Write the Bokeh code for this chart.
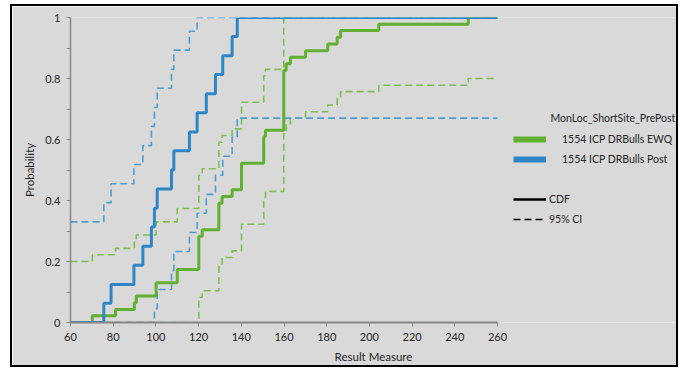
from bokeh.plotting import figure
from bokeh.models import Range1d, Legend, LegendItem, FixedTicker, Label
from bokeh.embed import file_html
from bokeh.resources import INLINE

# ---------------- data ----------------
x_ticks = [60, 80, 100, 120, 140, 160, 180, 200, 220, 240, 260]
x_tick_labels = ["60", "80", "100", "120", "140", "160", "180", "200", "220", "240", "260"]
y_ticks = [0, 0.2, 0.4, 0.6, 0.8, 1.0]
y_tick_labels = ["0", "0.2", "0.4", "0.6", "0.8", "1"]
y_minor_ticks = [0.1, 0.3, 0.5, 0.7, 0.9]

legend_title = "MonLoc_ShortSite_PrePost"
series_names = ["1554 ICP DRBulls EWQ", "1554 ICP DRBulls Post"]
style_names = ["CDF", "95% CI"]
x_label = "Result Measure"
y_label = "Probability"

# 1554 ICP DRBulls Post: step positions, CDF and CI after each step
post_x = [75.6, 79.0, 89.7, 93.9, 97.9, 99.3, 100.6, 107.3, 108.4, 115.7,
          119.3, 123.6, 127.9, 131.3, 135.7, 138.1]
post_cdf = [0.063, 0.125, 0.188, 0.250, 0.313, 0.375, 0.438, 0.500, 0.563, 0.625,
            0.688, 0.750, 0.813, 0.875, 0.938, 1.000]
post_lo = [0, 0, 0, 0, 0, 0.045, 0.108, 0.170, 0.233, 0.295,
           0.358, 0.420, 0.483, 0.545, 0.608, 0.670]
post_hi = [0.393, 0.455, 0.518, 0.580, 0.643, 0.705, 0.768, 0.830, 0.893, 0.955,
           1, 1, 1, 1, 1, 1]
post_start = [0, 0, 0.33]  # cdf, lower, upper at x = 60

# 1554 ICP DRBulls EWQ
ewq_x = [70.2, 81.1, 89.9, 90.8, 100.1, 110.0, 120.1, 121.7, 129.5, 131.0, 135.7,
         140.1, 150.5, 151.3, 159.9, 161.0, 163.0, 170.1, 180.5, 184.9, 186.5, 204.4, 246.3]
ewq_cdf = [0.022, 0.043, 0.065, 0.087, 0.130, 0.174, 0.283, 0.304, 0.391, 0.413, 0.435,
           0.522, 0.609, 0.630, 0.826, 0.848, 0.870, 0.891, 0.913, 0.935, 0.957, 0.978, 1.000]
ewq_lo = [0, 0, 0, 0, 0, 0, 0.083, 0.104, 0.191, 0.213, 0.235,
          0.322, 0.409, 0.430, 0.626, 0.648, 0.670, 0.691, 0.713, 0.735, 0.757, 0.778, 0.800]
ewq_hi = [0.222, 0.243, 0.265, 0.287, 0.330, 0.374, 0.483, 0.504, 0.591, 0.613, 0.635,
          0.722, 0.809, 0.830, 1, 1, 1, 1, 1, 1, 1, 1, 1]
ewq_start = [0, 0, 0.20]

# ---------------- style ----------------
GREY = "#d9d9d9"
TXT = "#262626"
AX = "#868686"
FONT = "Lato"
GREEN = "#62b032"
GREEN_D = "#7cc04f"
BLUE = "#2e86c6"
BLUE_D = "#4b9fd5"

OFF_X, OFF_Y = 12, 6          # page position of the chart canvas (border drawn outside)
W, H = 664, 359
ML, MR, MT, MB = 58, 0, 11, 43
px_per_unit = 427 / 200.0
x_end = x_ticks[0] + (W - ML - MR) / px_per_unit

p = figure(width=W, height=H, output_backend="svg", toolbar_location=None,
           x_range=Range1d(x_ticks[0], x_end), y_range=Range1d(0, 1),
           min_border_left=ML, min_border_right=MR, min_border_top=MT, min_border_bottom=MB,
           background_fill_color=GREY, border_fill_color=GREY, outline_line_color=None)
p.margin = (OFF_Y, 0, 0, OFF_X)
p.styles = {"outline": "2px solid black", "outline-offset": "0px"}
p.xgrid.visible = False
p.ygrid.visible = False


def steps(xs, ys, start):
    return [x_ticks[0]] + xs + [x_ticks[-1]], [start] + ys + [ys[-1]]


# EWQ (green) first, Post (blue) on top
for xs, lo, hi, st, cd in [
    (ewq_x, ewq_lo, ewq_hi, ewq_start, GREEN_D),
    (post_x, post_lo, post_hi, post_start, BLUE_D),
]:
    for ys, s0 in [(lo, st[1]), (hi, st[2])]:
        sx, sy = steps(xs, ys, s0)
        p.step(sx, sy, mode="after", line_color=cd, line_width=1.6, line_dash="7 4")
for xs, cdf, st, c in [(ewq_x, ewq_cdf, ewq_start, GREEN), (post_x, post_cdf, post_start, BLUE)]:
    sx, sy = steps(xs, cdf, st[0])
    p.step(sx, sy, mode="after", line_color=c, line_width=3)

# axes
p.xaxis.bounds = (x_ticks[0], x_ticks[-1])
p.xaxis.ticker = FixedTicker(ticks=x_ticks, minor_ticks=[])
p.xaxis.major_label_overrides = {t: l for t, l in zip(x_ticks, x_tick_labels)}
p.yaxis.ticker = FixedTicker(ticks=y_ticks, minor_ticks=y_minor_ticks)
p.yaxis.major_label_overrides = {t: l for t, l in zip(y_ticks, y_tick_labels)}
p.xaxis.axis_label = x_label
p.yaxis.axis_label = y_label
for ax in (p.xaxis, p.yaxis):
    ax.axis_line_color = AX
    ax.major_tick_line_color = AX
    ax.minor_tick_line_color = AX
    ax.major_tick_in = 0
    ax.major_tick_out = 4
    ax.minor_tick_in = 0
    ax.minor_tick_out = 4
    ax.major_label_text_font = FONT
    ax.major_label_text_font_size = "11px"
    ax.major_label_text_color = TXT
    ax.axis_label_text_font = FONT
    ax.axis_label_text_font_size = "11.5px"
    ax.axis_label_text_font_style = "normal"
    ax.axis_label_text_color = TXT
    ax.major_label_standoff = 6
    ax.axis_label_standoff = 6
p.xaxis.axis_line_width = 2
p.yaxis.axis_line_width = 1.5

# legend glyph renderers (single NaN point, nothing drawn in the plot)
nan = float("nan")
g_bar = p.line(x=[nan], y=[nan], line_color=GREEN, line_width=6)
b_bar = p.line(x=[nan], y=[nan], line_color=BLUE, line_width=6)
k_cdf = p.line(x=[nan], y=[nan], line_color="black", line_width=2.5)
k_ci = p.line(x=[nan], y=[nan], line_color="black", line_width=1.5, line_dash="7 4")

frame_bottom_page = OFF_Y + H - MB   # page y of probability 0
frame_left_page = OFF_X + ML


def legend_box(items, standoff, top_page):
    lg = Legend(items=items, location=(513 - frame_left_page, frame_bottom_page - (top_page + 34)),
                orientation="vertical", padding=0, margin=0, spacing=6,
                glyph_width=33, glyph_height=14, label_height=14, label_standoff=standoff,
                border_line_color=None, background_fill_alpha=0,
                label_text_font=FONT, label_text_font_size="10.5px", label_text_color=TXT)
    p.add_layout(lg)


legend_box([LegendItem(label=series_names[0], renderers=[g_bar]),
            LegendItem(label=series_names[1], renderers=[b_bar])], 16, 131.7)
legend_box([LegendItem(label=style_names[0], renderers=[k_cdf]),
            LegendItem(label=style_names[1], renderers=[k_ci])], 3, 192.3)

p.add_layout(Label(x=550 - frame_left_page, y=frame_bottom_page - 117.5,
                   x_units="screen", y_units="screen",
                   text=legend_title, text_font=FONT, text_font_size="10.5px",
                   text_color=TXT, text_baseline="middle"))

open("out.html", "w").write(file_html(p, INLINE))
